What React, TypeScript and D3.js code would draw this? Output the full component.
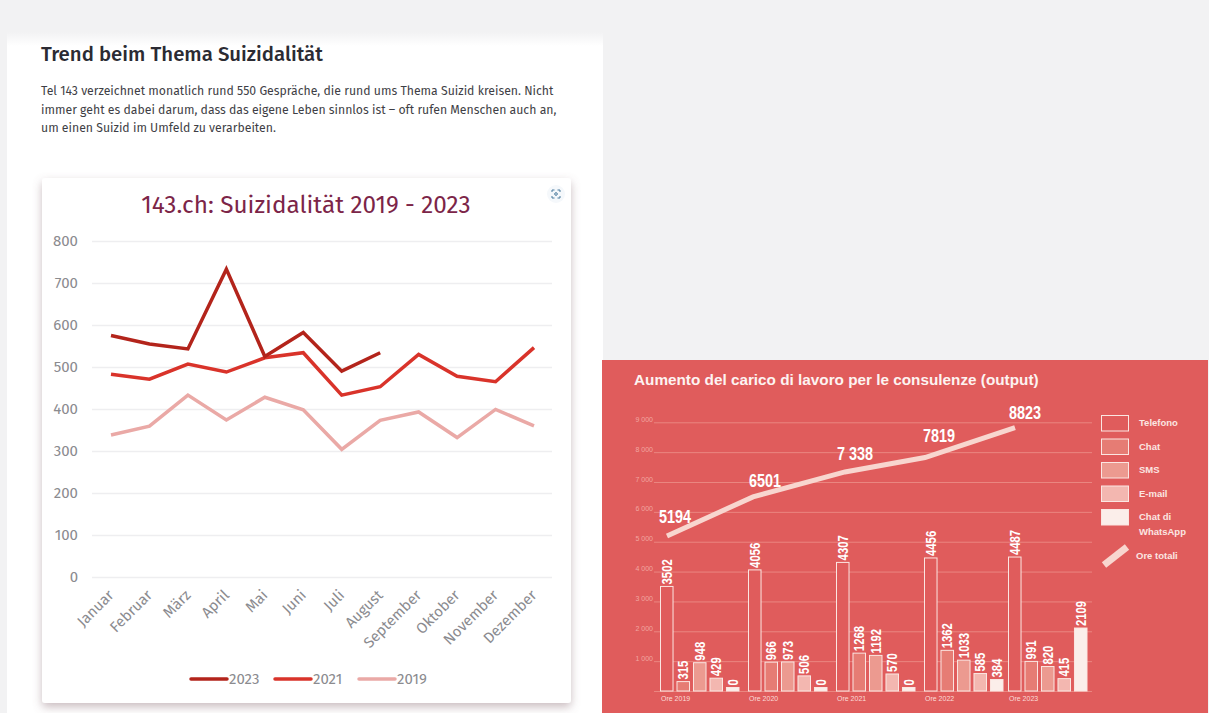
import React, { useEffect, useRef } from "react"
import * as d3 from "d3"

const months = ["Januar", "Februar", "März", "April", "Mai", "Juni", "Juli", "August", "September", "Oktober", "November", "Dezember"]
const calls2023 = [575, 555, 543, 733, 525, 582, 490, 534]
const calls2021 = [483, 471, 507, 488, 522, 534, 433, 453, 530, 478, 465, 546]
const calls2019 = [338, 359, 433, 374, 428, 398, 304, 373, 393, 332, 399, 360]
const lineTicks = [0, 100, 200, 300, 400, 500, 600, 700, 800]

const years = ["Ore 2019", "Ore 2020", "Ore 2021", "Ore 2022", "Ore 2023"]
const channels = ["Telefono", "Chat", "SMS", "E-mail", "Chat di WhatsApp"]
const telefono = [3502, 4056, 4307, 4456, 4487]
const chat = [315, 966, 1268, 1362, 991]
const sms = [948, 973, 1192, 1033, 820]
const email = [429, 506, 570, 585, 415]
const whatsapp = [0, 0, 0, 384, 2109]
const totals = [5194, 6501, 7338, 7819, 8823]
const totalLabels = ["5194", "6501", "7 338", "7819", "8823"]
const hourTicks = [0, 1000, 2000, 3000, 4000, 5000, 6000, 7000, 8000, 9000]

const FIRA = "'Fira Sans', Roboto, sans-serif"
const HELV = "'Liberation Sans', sans-serif"
const RED = "#e05c5c"
const channelFill = [RED, "#e67c74", "#ec9a90", "#f3b7b0", "#fbeeea"]
const lineColors = ["#b3241b", "#d9332a", "#eaa9a6"]
// the groups in the original are not evenly spaced
const groupStarts = [660, 748, 836, 924, 1008]
const linePoints = [667, 753, 845, 925, 1015]
const labelNudge = [[8, -13], [12, -10], [10, -12], [14, -16], [10, -9]]

function drawLineChart(root) {
  const g = d3.select(root).select("#lines")
  g.selectAll("*").remove()

  const x = d3.scalePoint().domain(months).range([111, 534])
  const y = d3.scaleLinear().domain([0, 800]).range([577, 241])

  const yAxis = g.append("g")
    .attr("transform", "translate(92,0)")
    .call(d3.axisLeft(y).tickValues(lineTicks).tickSize(0).tickPadding(14))
  yAxis.select(".domain").remove()
  yAxis.selectAll("text").attr("font-family", FIRA).attr("font-size", 15).attr("fill", "#8b8b8f")
  yAxis.selectAll(".tick line")
    .attr("x2", 460)
    .attr("stroke", "#eeeef0")
    .attr("stroke-width", 1.5)

  const xAxis = g.append("g")
    .attr("transform", "translate(0,577)")
    .call(d3.axisBottom(x).tickSize(0))
  xAxis.select(".domain").remove()
  xAxis.selectAll("text")
    .attr("font-family", FIRA)
    .attr("font-size", 15)
    .attr("fill", "#8b8b8f")
    .attr("text-anchor", "end")
    .attr("dy", 0)
    .attr("transform", "translate(1,17) rotate(-45)")

  const line = d3.line().x((_, i) => x(months[i])).y(d => y(d))
  const series = [calls2019, calls2021, calls2023]
  const colors = [lineColors[2], lineColors[1], lineColors[0]]
  series.forEach((s, i) => {
    g.append("path")
      .attr("d", line(s))
      .attr("fill", "none")
      .attr("stroke", colors[i])
      .attr("stroke-width", 3.5)
      .attr("stroke-linejoin", "miter")
  })

  const legendYears = ["2023", "2021", "2019"]
  const legend = d3.scalePoint().domain(legendYears).range([191, 359])
  legendYears.forEach((yr, i) => {
    const lx = legend(yr)
    g.append("line")
      .attr("x1", lx).attr("x2", lx + 36)
      .attr("y1", 679).attr("y2", 679)
      .attr("stroke", lineColors[i])
      .attr("stroke-width", 3.5)
      .attr("stroke-linecap", "round")
    g.append("text")
      .attr("x", lx + 38)
      .attr("y", 684)
      .attr("font-family", FIRA)
      .attr("font-size", 15)
      .attr("fill", "#8b8b8f")
      .text(yr)
  })
}

function drawBarChart(root) {
  const g = d3.select(root).select("#bars")
  g.selectAll("*").remove()

  const y = d3.scaleLinear().domain([0, 9000]).range([691, 422.3])
  const group = d3.scaleOrdinal().domain(years).range(groupStarts)
  const inner = d3.scaleBand().domain(channels).range([0, 79.5]).paddingInner(0.18)
  const lineX = d3.scaleOrdinal().domain(years).range(linePoints)

  const fmt = (d) => d === 0 ? "" : d3.format(",")(d).replace(",", " ")
  const yAxis = g.append("g")
    .attr("transform", "translate(654,0)")
    .call(d3.axisLeft(y).tickValues(hourTicks).tickSize(0).tickPadding(1).tickFormat(fmt))
  yAxis.select(".domain").remove()
  yAxis.selectAll("text").attr("font-family", HELV).attr("font-size", 7).attr("fill", "#f2a6a0").attr("dy", -1)
  yAxis.selectAll(".tick line").attr("x2", 438).attr("stroke", "#ea8680").attr("stroke-width", 1)

  const values = [telefono, chat, sms, email, whatsapp]
  channels.forEach((c, ci) => {
    values[ci].forEach((v, i) => {
      const bx = group(years[i]) + inner(c)
      const top = v === 0 ? y(0) - 3.5 : y(v)
      g.append("rect")
        .attr("x", bx + 0.5)
        .attr("y", top)
        .attr("width", inner.bandwidth() - 1)
        .attr("height", y(0) - top)
        .attr("fill", channelFill[ci])
        .attr("stroke", "#fbe6e2")
        .attr("stroke-width", 1)
      g.append("text")
        .attr("transform", `translate(${bx + inner.bandwidth() / 2 + 5},${top - 2}) rotate(-90) scale(0.78,1)`)
        .attr("font-family", HELV)
        .attr("font-weight", 700)
        .attr("font-size", 14.5)
        .attr("fill", "#ffffff")
        .text(v)
    })
  })

  years.forEach((yr) => {
    g.append("text")
      .attr("x", group(yr) + 1)
      .attr("y", 701)
      .attr("font-family", HELV)
      .attr("font-size", 7)
      .attr("fill", "#fbdcd8")
      .text(yr)
  })

  const line = d3.line().x((_, i) => lineX(years[i])).y(d => y(d))
  g.append("path")
    .attr("d", line(totals))
    .attr("fill", "none")
    .attr("stroke", "#f8d6cf")
    .attr("stroke-width", 5)

  totals.forEach((t, i) => {
    const [dx, dy] = labelNudge[i]
    g.append("text")
      .attr("transform", `translate(${lineX(years[i]) + dx},${y(t) + dy}) scale(0.8,1)`)
      .attr("text-anchor", "middle")
      .attr("font-family", HELV)
      .attr("font-weight", 700)
      .attr("font-size", 18)
      .attr("fill", "#ffffff")
      .text(totalLabels[i])
  })

  // Legende
  const ly = d3.scalePoint().domain(channels).range([415.5, 509.5])
  channels.forEach((c, i) => {
    g.append("rect")
      .attr("x", 1101.5).attr("y", ly(c))
      .attr("width", 27).attr("height", 15.5)
      .attr("fill", channelFill[i])
      .attr("stroke", "#fbe6e2")
    const words = c === "Chat di WhatsApp" ? ["Chat di", "WhatsApp"] : [c]
    words.forEach((w, k) => {
      g.append("text")
        .attr("x", 1139).attr("y", ly(c) + 10.5 + k * 14.5)
        .attr("font-family", HELV).attr("font-weight", 700).attr("font-size", 9.5)
        .attr("fill", "#fbe6e2").text(w)
    })
  })
  g.append("line")
    .attr("x1", 1104).attr("y1", 565).attr("x2", 1127).attr("y2", 547)
    .attr("stroke", "#f8d6cf").attr("stroke-width", 7)
  g.append("text")
    .attr("x", 1136).attr("y", 559)
    .attr("font-family", HELV).attr("font-weight", 700).attr("font-size", 9.5)
    .attr("fill", "#fbe6e2").text("Ore totali")
}

export default function App() {
  const ref = useRef<SVGSVGElement>(null)

  useEffect(() => {
    drawLineChart(ref.current)
    drawBarChart(ref.current)
  }, [])

  return (
    <svg ref={ref} width={1209} height={713} style={{ position: "absolute", left: 0, top: 0, display: "block" }}>
      <defs>
        <linearGradient id="fade" x1="0" y1="0" x2="0" y2="1">
          <stop offset="0" stopColor="#f2f2f3" />
          <stop offset="1" stopColor="#ffffff" />
        </linearGradient>
        <filter id="cardShadow" x="-10%" y="-10%" width="120%" height="120%">
          <feDropShadow dx="0" dy="4" stdDeviation="5" floodColor="#8a6a75" floodOpacity="0.45" />
        </filter>
      </defs>
      <rect width={1209} height={713} fill="#f2f2f3" />
      <rect x={7} y={32} width={596} height={681} fill="#ffffff" />
      <rect x={7} y={32} width={596} height={14} fill="url(#fade)" />
      <rect x={602} y={360} width={606} height={353} fill={RED} />

      <text x={41} y={61} fontFamily={FIRA} fontWeight={500} fontSize={20.4} fill="#2b2b33">Trend beim Thema Suizidalität</text>
      <g fontFamily={FIRA} fontSize={12.25} fill="#3f3f46">
        <text x={41} y={95}>Tel 143 verzeichnet monatlich rund 550 Gespräche, die rund ums Thema Suizid kreisen. Nicht</text>
        <text x={41} y={113.5}>immer geht es dabei darum, dass das eigene Leben sinnlos ist – oft rufen Menschen auch an,</text>
        <text x={41} y={131.5}>um einen Suizid im Umfeld zu verarbeiten.</text>
      </g>

      <rect x={42} y={178} width={529} height={525} rx={3} fill="#ffffff" filter="url(#cardShadow)" />
      <text x={306} y={213} textAnchor="middle" fontFamily={FIRA} fontSize={24.3} fill="#7c2548">143.ch: Suizidalität 2019 - 2023</text>

      <circle cx={556} cy={194} r={9} fill="#f5f8fb" />
      <g fill="none" stroke="#4a7a9c" strokeWidth={1}>
        <path d="M552 192v-2h2.500M557.500 190h2.500v2M560 196v2h-2.500M554.500 198h-2.500v-2" />
        <circle cx={556} cy={194} r={1.3} />
      </g>

      <g id="lines" />
      <text x={634} y={385} fontFamily={HELV} fontWeight={700} fontSize={15.3} fill="#fdf3f1">Aumento del carico di lavoro per le consulenze (output)</text>
      <g id="bars" />
    </svg>
  )
}
